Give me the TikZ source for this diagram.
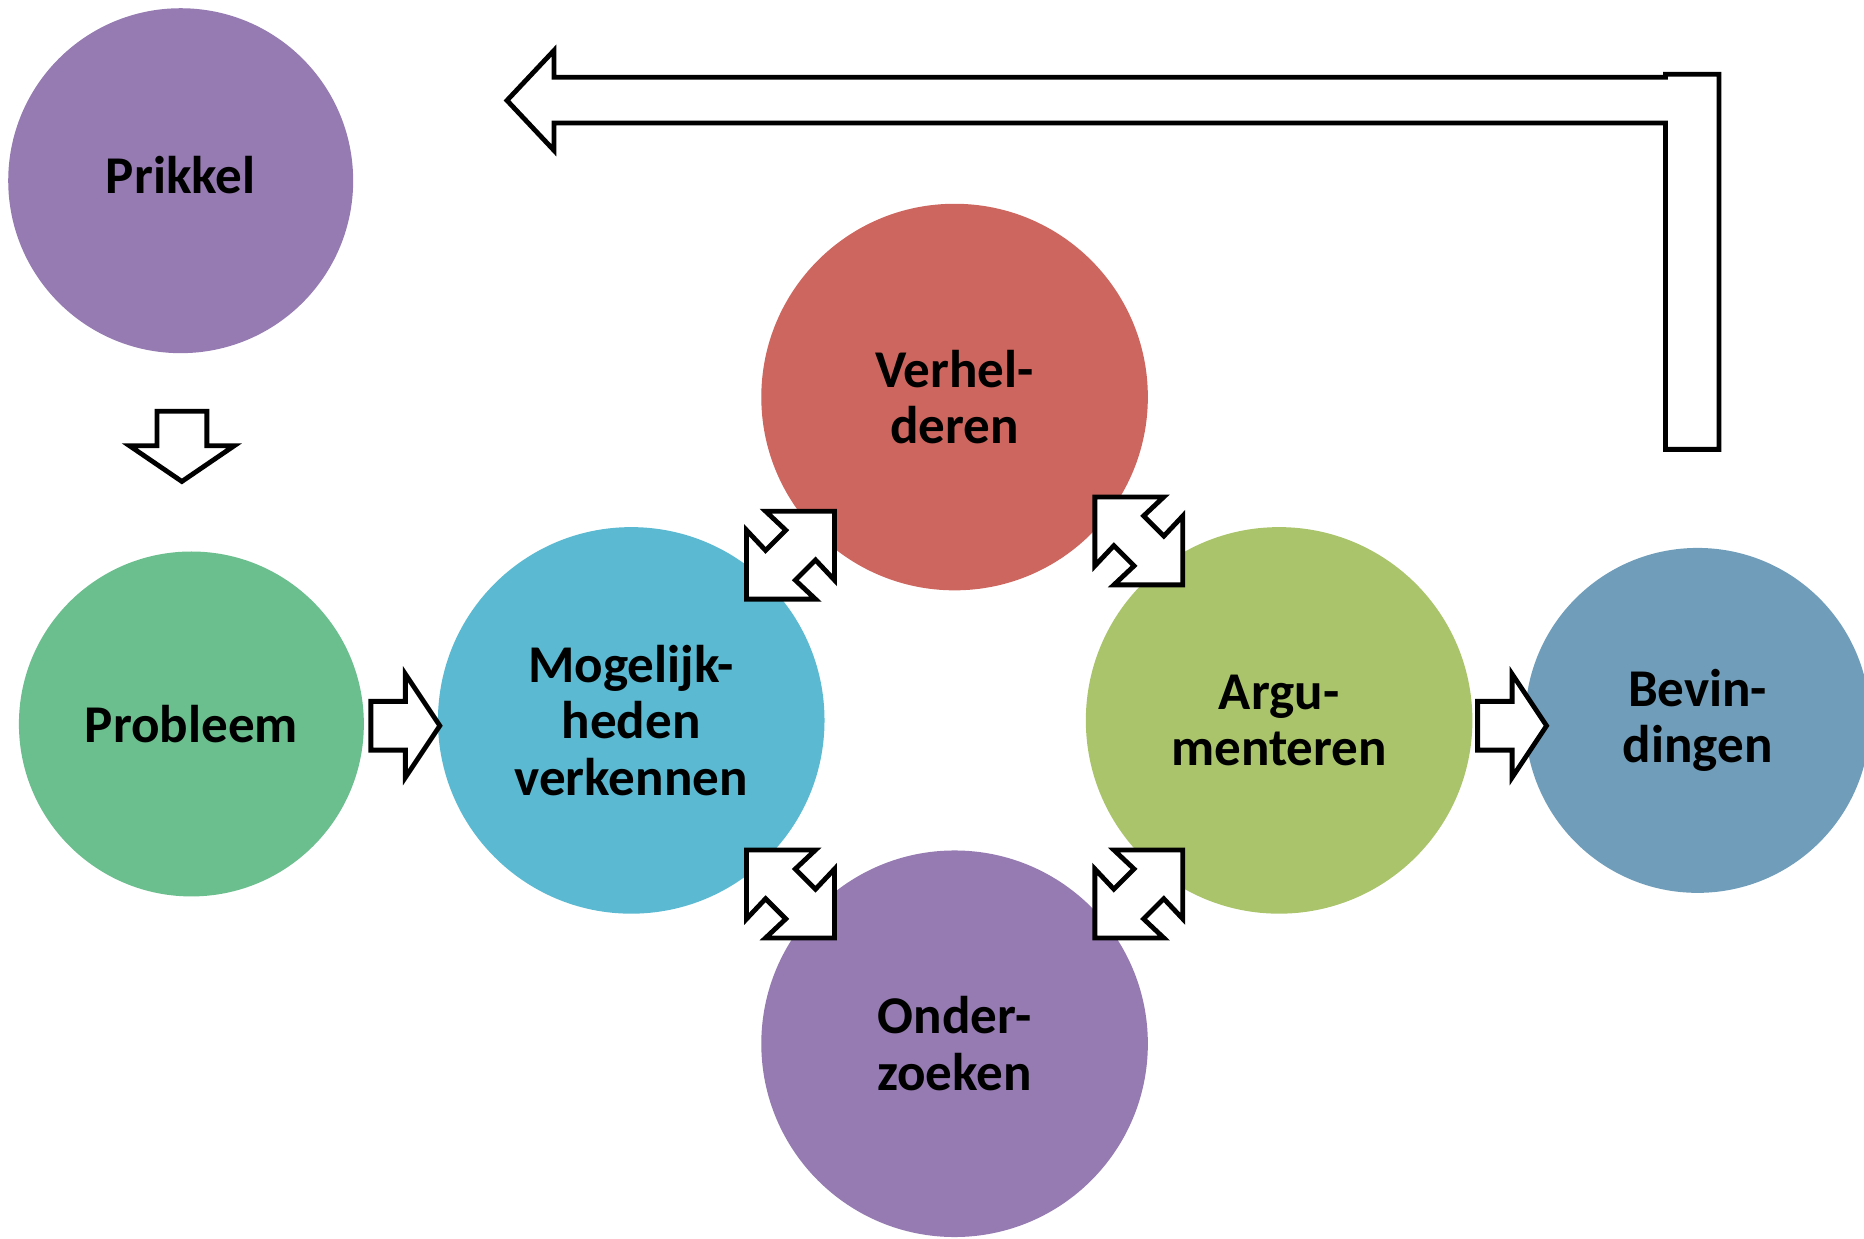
\documentclass[tikz,border=0pt]{standalone}
\usepackage{fontspec}
\setmainfont{Carlito}
\usetikzlibrary{positioning}

\definecolor{prikkelpurple}{RGB}{149,123,177}
\definecolor{probleemgreen}{RGB}{107,190,142}
\definecolor{verkenblue}{RGB}{91,185,209}
\definecolor{verheldred}{RGB}{205,102,94}
\definecolor{argugreen}{RGB}{170,196,108}
\definecolor{bevindblue}{RGB}{112,158,186}

\tikzset{
    steptext/.style={align=center, font=\fontsize{12.7}{13.5}\selectfont\bfseries},
    bubble/.style={steptext, circle, inner sep=0pt},
    smallbubble/.style={bubble, minimum size=2.9cm},
    bigbubble/.style={bubble, minimum size=3.25cm},
    blockarrow/.style={draw=black, fill=white, line width=1.15pt, line join=miter},
}

\begin{document}
\begin{tikzpicture}[x=0.01cm, y=-0.01cm]

    \useasboundingbox (0,0) rectangle (1568,1042);

    %% Steps

    % Start
    \node[smallbubble, fill=prikkelpurple] (prikkel) at (152,152) {};
    \node[steptext] (prikkeltext) at ([yshift=0.05cm]prikkel.center) {Prikkel};
    \node[smallbubble, fill=probleemgreen] (probleem) at (161,609) {Probleem};

    % Cycle
    \node[bigbubble, fill=verkenblue] (verkennen) at (531,606) {Mogelijk-\\heden\\verkennen};
    \node[bigbubble, fill=verheldred] (verhelderen) at (803,334) {Verhel-\\deren};
    \node[bigbubble, fill=argugreen] (argumenteren) at (1076,606) {Argu-\\menteren};
    \node[bigbubble, fill=prikkelpurple] (onderzoeken) at (803,878) {Onder-\\zoeken};

    % End
    \node[smallbubble, fill=bevindblue] (bevindingen) at (1428,606) {Bevin-\\dingen};

    %% Block arrows

    % Prikkel to Probleem
    \draw[blockarrow] (132,346) -- ++(42,0) -- ++(0,29) -- ++(23,0)
        -- ++(-44,30) -- ++(-44,-30) -- ++(23,0) -- cycle;

    % Probleem to verkennen
    \draw[blockarrow] (312,590) -- ++(29,0) -- ++(0,-23) -- ++(29,43.5)
        -- ++(-29,43.5) -- ++(0,-23) -- ++(-29,0) -- cycle;

    % Argumenteren to Bevindingen
    \draw[blockarrow] (1243,590) -- ++(29,0) -- ++(0,-23) -- ++(29,43.5)
        -- ++(-29,43.5) -- ++(0,-23) -- ++(-29,0) -- cycle;

    % Between the cycle steps
    \foreach \cx/\cy/\flip in {665/467/1, 958/455/-1, 665/752/-1, 958/752/1}
        \draw[blockarrow, shift={(\cx,\cy)}, xscale=\flip]
            (-37,37) -- (21,37) -- (4,21) -- (21,4) -- (37,21) -- (37,-37)
            -- (-21,-37) -- (-4,-21) -- (-21,-4) -- (-37,-21) -- cycle;

    % Back to the start
    \draw[blockarrow] (426.5,84.5) -- (466,42.5) -- (466,65) -- (1401,65)
        -- (1401,62.5) -- (1446,62.5) -- (1446,378) -- (1401,378)
        -- (1401,103.5) -- (466,103.5) -- (466,126.5) -- cycle;

\end{tikzpicture}
\end{document}
